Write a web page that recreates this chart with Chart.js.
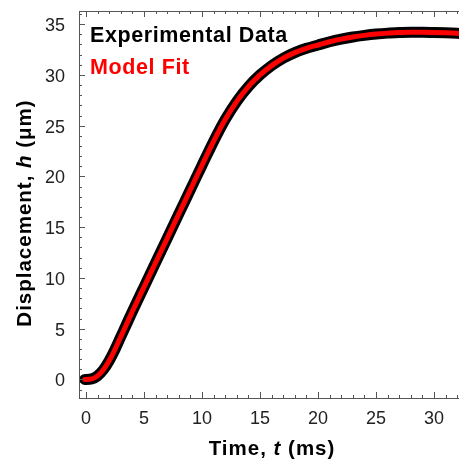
<!DOCTYPE html>
<html><head><meta charset="utf-8">
<script src="https://cdn.jsdelivr.net/npm/chart.js@4.4.0/dist/chart.umd.min.js"></script>
<style>html,body{margin:0;padding:0;background:#fff}#c{display:block}</style>
</head><body>
<canvas id="c" width="459" height="461"></canvas>
<script>
const timeMs  = [-0.1, 0, 0.5, 1, 1.5, 2, 2.5, 3, 3.5, 4, 5, 6, 7, 8, 9, 10, 11, 12, 13, 14, 15, 16, 17, 18, 19, 20, 21, 22, 23, 24, 25, 26, 27, 28, 29, 30, 31, 32, 32.5];
const expDisp = [0, 0, 0.05, 0.35, 0.95, 1.85, 2.95, 4.2, 5.45, 6.7, 9.1, 11.5, 13.9, 16.3, 18.7, 21.1, 23.45, 25.6, 27.4, 28.85, 30.0, 30.92, 31.65, 32.2, 32.62, 32.95, 33.27, 33.53, 33.74, 33.9, 34.03, 34.12, 34.17, 34.2, 34.2, 34.18, 34.15, 34.1, 34.07];
const fitDisp = [0, 0, 0.05, 0.35, 0.95, 1.85, 2.95, 4.2, 5.45, 6.7, 9.1, 11.5, 13.9, 16.3, 18.7, 21.1, 23.45, 25.6, 27.4, 28.85, 30.0, 30.92, 31.65, 32.2, 32.62, 32.95, 33.27, 33.53, 33.74, 33.9, 34.03, 34.12, 34.17, 34.2, 34.2, 34.18, 34.15, 34.1, 34.07];
const xMajorTicks = [0, 5, 10, 15, 20, 25, 30];
const yMajorTicks = [0, 5, 10, 15, 20, 25, 30, 35];
const seriesNames = ['Experimental Data', 'Model Fit'];
const xTitleParts = [['Time, ', false], ['t', true], [' (ms)', false]];
const yTitleParts = [['Displacement, ', false], ['h', true], [' (\u03bcm)', false]];

const FONT = '"Liberation Sans", Arial, sans-serif';

function intTicks(scale) {
  const arr = [];
  for (let v = Math.ceil(scale.min); v <= Math.floor(scale.max); v++) arr.push({ value: v });
  scale.ticks = arr;
}

function drawParts(ctx, parts, size, spacing) {
  ctx.letterSpacing = spacing + 'px';
  let total = 0;
  const widths = parts.map(p => {
    ctx.font = (p[1] ? 'italic ' : '') + 'bold ' + size + 'px ' + FONT;
    const w = ctx.measureText(p[0]).width;
    total += w; return w;
  });
  let x = -total / 2;
  parts.forEach((p, i) => {
    ctx.font = (p[1] ? 'italic ' : '') + 'bold ' + size + 'px ' + FONT;
    ctx.fillText(p[0], x, 0);
    x += widths[i];
  });
}

const decor = {
  id: 'decor',
  afterDraw(chart) {
    const ctx = chart.ctx, a = chart.chartArea;
    const xs = chart.scales.x, ys = chart.scales.y;
    ctx.save();
    ctx.strokeStyle = '#555';
    ctx.lineWidth = 1;
    ctx.beginPath();
    ctx.moveTo(a.left + 0.5, a.top + 0.5); ctx.lineTo(a.left + 0.5, a.bottom + 0.5);
    ctx.moveTo(a.left, a.bottom + 0.5); ctx.lineTo(a.right, a.bottom + 0.5);
    ctx.moveTo(a.left, a.top + 0.5); ctx.lineTo(a.right, a.top + 0.5);
    xs.ticks.forEach(t => {
      const px = Math.round(xs.getPixelForValue(t.value)) + 0.5;
      const len = xMajorTicks.includes(t.value) ? 6 : 3;
      ctx.moveTo(px, a.bottom); ctx.lineTo(px, a.bottom - len);
      ctx.moveTo(px, a.top); ctx.lineTo(px, a.top + len);
    });
    ys.ticks.forEach(t => {
      const py = Math.round(ys.getPixelForValue(t.value)) + 0.5;
      const len = yMajorTicks.includes(t.value) ? 6 : 3;
      ctx.moveTo(a.left, py); ctx.lineTo(a.left + len, py);
    });
    ctx.stroke();

    ctx.textBaseline = 'alphabetic';
    ctx.textAlign = 'left';
    ctx.letterSpacing = '0.6px';
    ctx.font = 'bold 21.5px ' + FONT;
    const ds = chart.data.datasets;
    [0, 1].forEach((i, k) => {
      const d = ds.find(q => q.label === seriesNames[i]);
      ctx.fillStyle = d.legendColor;
      ctx.fillText(d.label, 90, 42 + k * 32);
    });

    ctx.fillStyle = '#000';
    ctx.textAlign = 'left';
    ctx.save();
    ctx.translate(272, 455);
    drawParts(ctx, xTitleParts, 20.5, 1);
    ctx.restore();
    ctx.save();
    ctx.translate(31, 213);
    ctx.rotate(-Math.PI / 2);
    drawParts(ctx, yTitleParts, 20.5, 1);
    ctx.restore();
    ctx.restore();
  }
};

new Chart(document.getElementById('c'), {
  type: 'line',
  data: {
    datasets: [
      {
        label: seriesNames[1],
        legendColor: '#ff0000',
        data: timeMs.map((t, i) => ({ x: t, y: fitDisp[i] })),
        borderColor: '#ff0000',
        borderWidth: 5,
        pointRadius: 0,
        cubicInterpolationMode: 'monotone',
        borderCapStyle: 'round',
        borderJoinStyle: 'round',
        order: 0
      },
      {
        label: seriesNames[0],
        legendColor: '#000000',
        data: timeMs.map((t, i) => ({ x: t, y: expDisp[i] })),
        borderColor: '#000000',
        borderWidth: 11,
        pointRadius: 0,
        cubicInterpolationMode: 'monotone',
        borderCapStyle: 'round',
        borderJoinStyle: 'round',
        order: 1
      }
    ]
  },
  options: {
    responsive: false,
    animation: false,
    devicePixelRatio: 1,
    layout: { padding: { top: 11, right: 0, left: 0, bottom: 0 } },
    plugins: { legend: { display: false }, tooltip: { enabled: false } },
    scales: {
      x: {
        type: 'linear',
        min: -0.6, max: 32.15,
        afterBuildTicks: intTicks,
        afterFit: s => { s.height = 63; s.paddingLeft = 0; s.paddingRight = 0; },
        grid: { display: false },
        border: { display: false },
        ticks: {
          autoSkip: false, maxRotation: 0, padding: 2,
          color: '#222',
          font: { family: FONT, size: 18 },
          callback: v => xMajorTicks.includes(v) ? String(v) : ''
        }
      },
      y: {
        type: 'linear',
        min: -1.83, max: 36.3,
        afterBuildTicks: intTicks,
        afterFit: s => { s.width = 79; s.paddingTop = 0; s.paddingBottom = 0; },
        grid: { display: false },
        border: { display: false },
        ticks: {
          autoSkip: false, padding: 6, labelOffset: 2,
          color: '#222',
          font: { family: FONT, size: 18 },
          callback: v => yMajorTicks.includes(v) ? String(v) : ''
        }
      }
    }
  },
  plugins: [decor]
});
</script>
</body></html>
